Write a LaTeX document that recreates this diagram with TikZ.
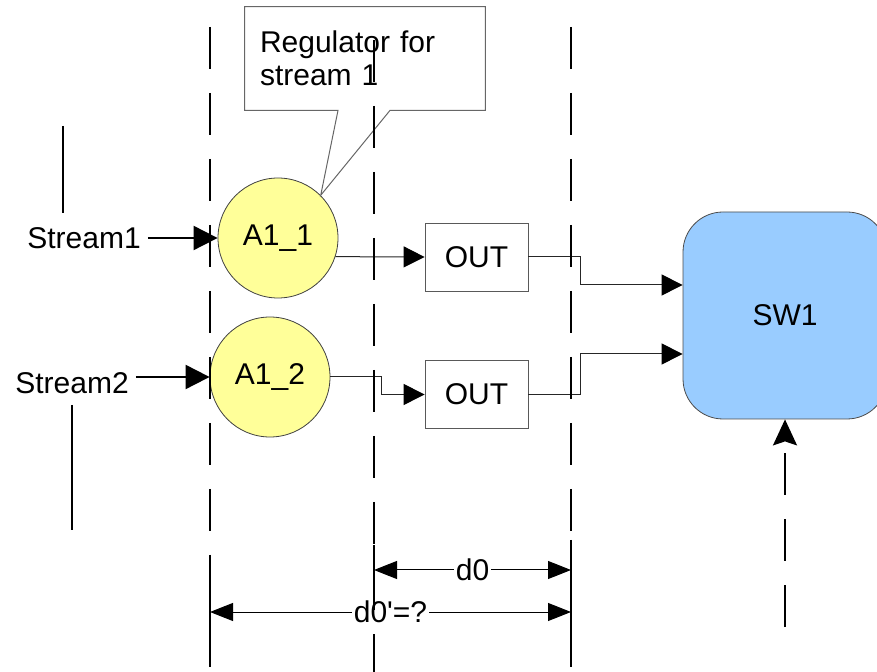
\documentclass[tikz,border=0pt]{standalone}
\usepackage{fontspec}
\setmainfont{Liberation Sans}[Ligatures=TeXOff]
\usetikzlibrary{arrows.meta}
\definecolor{ballyellow}{HTML}{FFFF99}
\definecolor{swblue}{HTML}{99CCFF}

\begin{document}
\begin{tikzpicture}[x=0.5pt, y=-0.5pt, >={Triangle[length=10.5pt,width=10.5pt,color=black]},
  font=\fontsize{15}{16.5}\selectfont,
  guide/.style={line width=1pt, dash pattern=on 21pt off 12pt},
  ball/.style={circle, draw=black!75, fill=ballyellow, minimum size=60pt, inner sep=0pt},
  outbox/.style={draw=black!65, minimum width=51.5pt, minimum height=34pt, inner sep=0pt},
  swbox/.style={draw=black!70, fill=swblue, rounded corners=20pt, minimum width=102pt, minimum height=103.5pt},
  wire/.style={line width=0.5pt, black!85},
  feedarrow/.style={line width=1pt, -{Triangle[length=12pt,width=12pt]}},
  dimarrow/.style={line width=0.5pt, {Triangle[length=11.5pt,width=9pt]}-{Triangle[length=11.5pt,width=9pt]}},
  dimlabel/.style={fill=white, inner sep=1pt}]
  % 0. canvas (pixel units of the sketch)
  \useasboundingbox (0,0) rectangle (877,672);

  % 1. callout for the regulator
  \node[align=left, text width=105pt, minimum width=120pt, minimum height=51.5pt,
        inner xsep=7.5pt] (reg) at (365,58.5) {Regulator for\\stream 1};

  % 2. regulators, output queues and the switch
  \node[ball] (a11) at (278,238) {A1\_1};
  \node[ball] (a12) at (270,377) {A1\_2};
  \node[outbox] (out1) at (476.5,257) {OUT};
  \node[outbox] (out2) at (476.5,394.5) {OUT};
  \node[swbox] (sw1) at (785,315.5) {SW1};
  \node (s1) at (84,238) {Stream1};
  \node (s2) at (72,383) {Stream2};

  \draw[draw=black!60, line width=0.5pt] (reg.north west) -- (reg.north east)
    -- (reg.south east) -- ([xshift=12.5pt]reg.south) -- (a11.45)
    -- ([xshift=-13.5pt]reg.south) -- (reg.south west) -- cycle;

  % 3. inputs
  \draw[feedarrow] (s1.east) -- (a11.west);
  \draw[feedarrow] (s2.east |- a12.west) -- (a12.west);
  \draw[line width=1pt] (63,126) -- (63,213);
  \draw[line width=1pt] (72,405) -- (72,530);

  % 4. connectors
  \draw[wire, ->] (a11.-18.5) -- (out1.west);
  \draw[wire, ->] (a12.east) -- ++(51,0) |- (out2.west);
  \draw[wire, ->] (out1.east) -- ++(52,0) |- ([yshift=15.25pt]sw1.west);
  \draw[wire, ->] (out2.east) -- ++(52,0) |- ([yshift=-19.25pt]sw1.west);

  % 5. distances
  \coordinate (d0l) at (374,570);
  \coordinate (d0r) at (571,570);
  \coordinate (d1l) at (210,612);
  \coordinate (d1r) at (571,612);
  \draw[dimarrow] (d0l) -- (d0r) node[midway, dimlabel] {d0};
  \draw[dimarrow] (d1l) -- (d1r) node[midway, dimlabel] {d0'=?};
  \draw[line width=1pt] (210,555) -- (210,667);
  \draw[line width=1pt] (374,545) -- (374,605);
  \draw[line width=1pt] (571,540) -- (571,667);

  % 6. time boundaries
  \draw[guide] (210,27) -- (210,672);
  \draw[guide] (374,40) -- (374,672);
  \draw[guide] (571,27) -- (571,672);

  % 7. feed into the switch
  \coordinate (feed) at (785,627);
  \draw[guide, -{Stealth[length=13pt,width=12pt,inset=2pt]}] (feed) -- (sw1.south);

\end{tikzpicture}
\end{document}
